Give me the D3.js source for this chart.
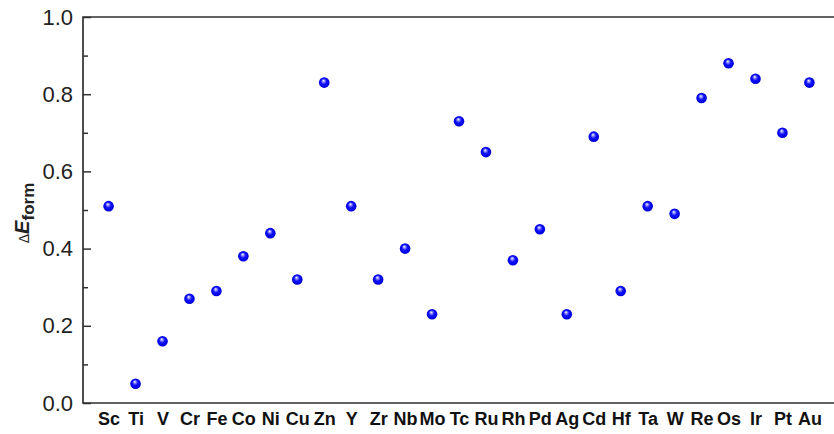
<!DOCTYPE html>
<html>
<head>
<meta charset="utf-8">
<script src="https://cdn.jsdelivr.net/npm/d3@7"></script>
<style>
  html, body { margin: 0; padding: 0; background: #fff; }
  svg { display: block; font-family: Arial, "Liberation Sans", sans-serif; }
</style>
</head>
<body>
<svg id="chart" width="834" height="434"></svg>
<script>
// Transition-metal dopants, in the order shown along the x axis
const elements = ["Sc","Ti","V","Cr","Fe","Co","Ni","Cu","Zn",
                  "Y","Zr","Nb","Mo","Tc","Ru","Rh","Pd","Ag","Cd",
                  "Hf","Ta","W","Re","Os","Ir","Pt","Au"];
// Formation-energy difference for each element
const deltaEform = [0.51,0.05,0.16,0.27,0.29,0.38,0.44,0.32,0.83,
                    0.51,0.32,0.40,0.23,0.73,0.65,0.37,0.45,0.23,0.69,
                    0.29,0.51,0.49,0.79,0.88,0.84,0.70,0.83];
const yMajorTicks = [0.0,0.2,0.4,0.6,0.8,1.0];
const yMinorTicks = [0.1,0.3,0.5,0.7,0.9];

const data = elements.map((el, i) => ({ el, v: deltaEform[i] }));

const svg = d3.select("#chart");
const plot = { left: 83, right: 835, top: 17, bottom: 403 };
const axisColor = "#303030";

const x = d3.scalePoint().domain(elements).range([plot.left, plot.right]).padding(0.95);
const y = d3.scaleLinear().domain([0, 1]).range([plot.bottom, plot.top]);

// Ball marker gradient
const defs = svg.append("defs");
const grad = defs.append("radialGradient")
  .attr("id", "ball").attr("cx", "50%").attr("cy", "50%").attr("r", "55%")
  .attr("fx", "42%").attr("fy", "30%");
grad.append("stop").attr("offset", "0%").attr("stop-color", "#ffffff");
grad.append("stop").attr("offset", "22%").attr("stop-color", "#8a8aff");
grad.append("stop").attr("offset", "48%").attr("stop-color", "#1010ff");
grad.append("stop").attr("offset", "85%").attr("stop-color", "#0000e0");
grad.append("stop").attr("offset", "100%").attr("stop-color", "#00009a");

// Frame: left, top and bottom edges
svg.append("path")
  .attr("d", `M${plot.right},${plot.top}H${plot.left}V${plot.bottom}H${plot.right}`)
  .attr("fill", "none").attr("stroke", axisColor).attr("stroke-width", 1.7);

// Left axis with inward ticks
const yAxis = svg.append("g").attr("transform", `translate(${plot.left},0)`)
  .call(d3.axisLeft(y).tickValues(yMajorTicks).tickSize(-8).tickPadding(10)
    .tickFormat(d3.format(".1f")));
yAxis.select(".domain").remove();
yAxis.selectAll(".tick line").attr("stroke", axisColor).attr("stroke-width", 1.5);
yAxis.selectAll(".tick text").attr("font-size", 22).attr("fill", "#222")
  .attr("font-family", "Arial, 'Liberation Sans', sans-serif");

const yMinor = svg.append("g").attr("transform", `translate(${plot.left},0)`)
  .call(d3.axisLeft(y).tickValues(yMinorTicks).tickSize(-5).tickFormat(""));
yMinor.select(".domain").remove();
yMinor.selectAll(".tick line").attr("stroke", axisColor).attr("stroke-width", 1.5);

// Bottom element labels
const xAxis = svg.append("g").attr("transform", `translate(0,${plot.bottom})`)
  .call(d3.axisBottom(x).tickSize(0).tickPadding(9));
xAxis.select(".domain").remove();
xAxis.selectAll(".tick text").attr("font-size", 18).attr("font-weight", "bold")
  .attr("fill", "#111").attr("font-family", "Arial, 'Liberation Sans', sans-serif");

// Y axis title: ΔE_form
const title = svg.append("text")
  .attr("transform", "translate(29,213) rotate(-90)")
  .attr("text-anchor", "middle").attr("fill", "#222");
title.append("tspan").attr("font-size", 14).text("Δ");
title.append("tspan").attr("font-size", 20).attr("font-weight", "bold")
  .attr("font-style", "italic").text("E");
title.append("tspan").attr("font-size", 17).attr("font-weight", "bold")
  .attr("dy", 5).text("form");

// Data points
svg.append("g").selectAll("circle").data(data).join("circle")
  .attr("cx", d => x(d.el)).attr("cy", d => y(d.v)).attr("r", 5.3)
  .attr("fill", "url(#ball)");
</script>
</body>
</html>
